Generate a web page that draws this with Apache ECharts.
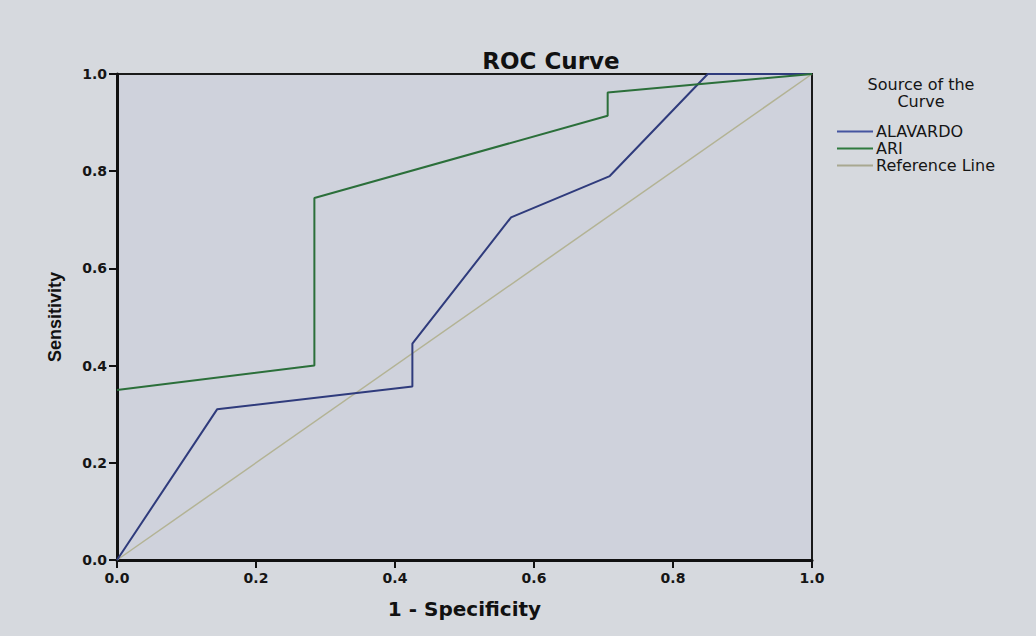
<!DOCTYPE html>
<html>
<head>
<meta charset="utf-8">
<script src="https://cdn.jsdelivr.net/npm/echarts@6/dist/echarts.min.js"></script>
<style>
html,body{margin:0;padding:0;background:#d6d9de;}
#chart{width:1036px;height:636px;}
</style>
</head>
<body>
<div id="chart"></div>
<script>
// Data
var seriesNames = ['ALAVARDO', 'ARI', 'Reference Line'];
var alavardoX = [0, 0.144, 0.425, 0.425, 0.567, 0.709, 0.85, 1];
var alavardoY = [0, 0.31, 0.357, 0.445, 0.705, 0.79, 1, 1];
var ariX = [0, 0.284, 0.284, 0.706, 0.706, 1];
var ariY = [0.35, 0.40, 0.745, 0.914, 0.962, 1];
var refX = [0, 1];
var refY = [0, 1];

function pairs(xs, ys) { return xs.map(function (x, i) { return [x, ys[i]]; }); }

var chart = echarts.init(document.getElementById('chart'), null, {renderer: 'svg'});
var axisLabelStyle = {fontFamily: 'DejaVu Sans', fontWeight: 'bold', fontSize: 14, color: '#151515',
  formatter: function (v) { return v.toFixed(1); }};
var legendTitleStyle = {fontFamily: 'DejaVu Sans', fontWeight: 'normal', fontSize: 16, lineHeight: 16, color: '#151515'};
chart.setOption({
  backgroundColor: '#d6d9de',
  animation: false,
  title: [
    {text: 'ROC Curve', left: 546, top: 44, textAlign: 'center',
     textStyle: {fontFamily: 'DejaVu Sans', fontWeight: 'bold', fontSize: 23, color: '#111'}},
    {text: 'Source of the', left: 921, top: 76, textAlign: 'center', padding: 0, textStyle: legendTitleStyle},
    {text: 'Curve', left: 921, top: 93, textAlign: 'center', padding: 0, textStyle: legendTitleStyle}
  ],
  legend: {
    orient: 'vertical', left: 832, top: 118, itemGap: 0,
    itemWidth: 36, itemHeight: 2, icon: 'rect',
    data: seriesNames,
    textStyle: {fontFamily: 'DejaVu Sans', fontSize: 16, lineHeight: 17, color: '#151515', padding: [0, 0, 0, -2]}
  },
  grid: {left: 117, right: 224, top: 74, bottom: 76, show: true,
    backgroundColor: '#cfd2dc', borderColor: '#1a1a1a', borderWidth: 2},
  xAxis: {
    type: 'value', min: 0, max: 1, interval: 0.2,
    name: '1 - Specificity', nameLocation: 'middle', nameGap: 39,
    nameTextStyle: {fontFamily: 'DejaVu Sans', fontWeight: 'bold', fontSize: 20, color: '#111'},
    axisLine: {show: true, onZero: false, lineStyle: {color: '#111', width: 3}},
    axisTick: {show: true, length: 8, lineStyle: {color: '#111', width: 2}},
    axisLabel: Object.assign({margin: 11}, axisLabelStyle),
    splitLine: {show: false}
  },
  yAxis: {
    type: 'value', min: 0, max: 1, interval: 0.2,
    name: 'Sensitivity', nameLocation: 'middle', nameGap: 53, nameRotate: 90,
    nameTextStyle: {fontFamily: 'Liberation Sans', fontWeight: 'bold', fontSize: 18, color: '#111'},
    axisLine: {show: true, onZero: false, lineStyle: {color: '#111', width: 3}},
    axisTick: {show: true, length: 8, lineStyle: {color: '#111', width: 2}},
    axisLabel: Object.assign({margin: 10}, axisLabelStyle),
    splitLine: {show: false}
  },
  series: [
    {name: seriesNames[0], type: 'line', data: pairs(alavardoX, alavardoY), showSymbol: false, symbol: 'none',
     lineStyle: {color: '#2f3b7c', width: 2}, itemStyle: {color: '#4455a0'}, z: 3},
    {name: seriesNames[1], type: 'line', data: pairs(ariX, ariY), showSymbol: false, symbol: 'none',
     lineStyle: {color: '#2b6f3a', width: 2}, itemStyle: {color: '#2f7a3e'}, z: 4},
    {name: seriesNames[2], type: 'line', data: pairs(refX, refY), showSymbol: false, symbol: 'none',
     lineStyle: {color: '#b3b394', width: 1.5}, itemStyle: {color: '#a8a890'}, z: 2}
  ]
});
</script>
</body>
</html>
